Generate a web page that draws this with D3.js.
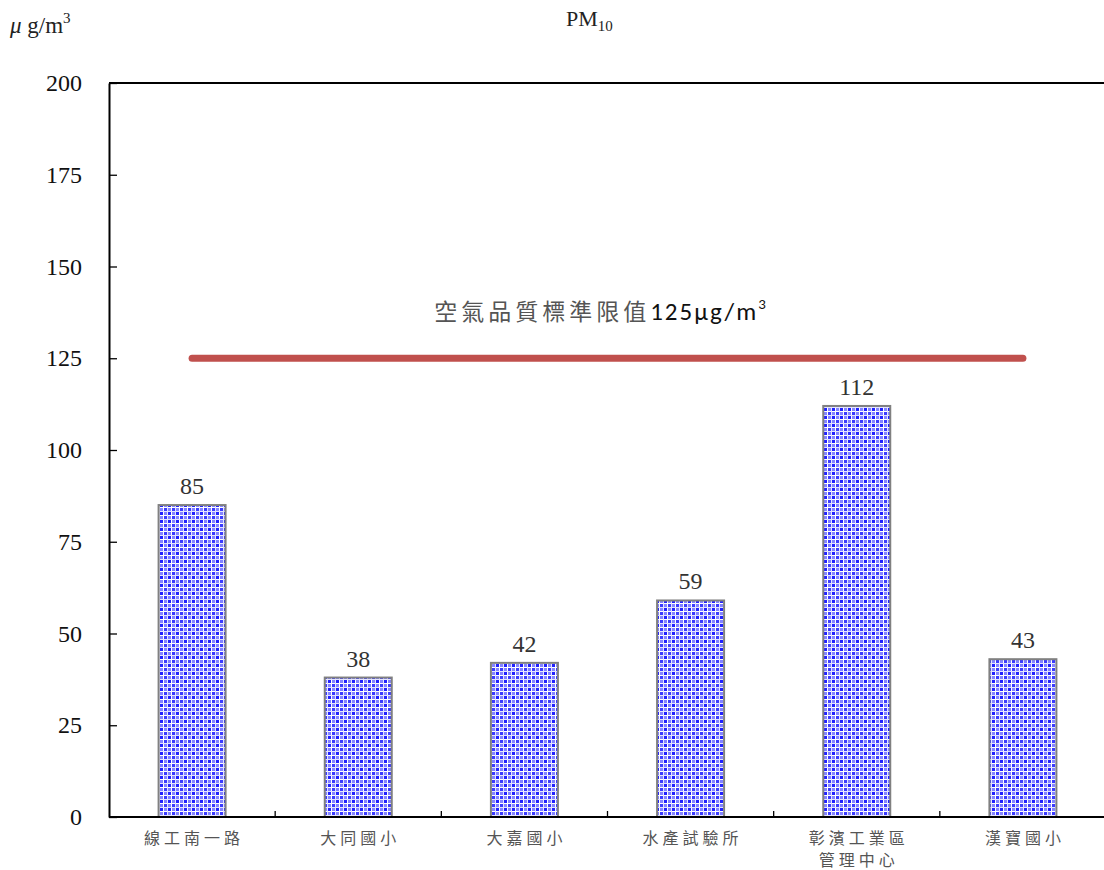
<!DOCTYPE html>
<html><head><meta charset="utf-8">
<script src="https://cdn.jsdelivr.net/npm/d3@7"></script>
<style>body{margin:0;background:#fff;}svg{display:block;}</style>
</head><body>
<script>
const categories = [["線工南一路"],["大同國小"],["大嘉國小"],["水產試驗所"],["彰濱工業區","管理中心"],["漢寶國小"]];
const values = [85, 38, 42, 59, 112, 43];
const yTicks = [0, 25, 50, 75, 100, 125, 150, 175, 200];
const standardValue = 125;
const standardLabel = "空氣品質標準限值";
const standardLabelNum = "125μg/m";

(function(){
const W = 1104, H = 870;
const mLeft = 109, mTop = 83, mBottom = 817, mRight = 1106;
const SERIF = "'Liberation Serif', 'Times New Roman', serif";
const CJK = "'Noto Sans CJK TC', 'Noto Sans CJK SC', sans-serif";
const svg = d3.select("body").append("svg").attr("width", W).attr("height", H);

const defs = svg.append("defs");
const pat = defs.append("pattern").attr("id","weave").attr("patternUnits","userSpaceOnUse")
  .attr("width",8).attr("height",8);
pat.append("rect").attr("width",8).attr("height",8).attr("fill","#8484ff");
pat.append("rect").attr("x",0).attr("y",0).attr("width",3).attr("height",3).attr("fill","#2020ff");
pat.append("rect").attr("x",4).attr("y",4).attr("width",3).attr("height",3).attr("fill","#3a3aff");
pat.append("rect").attr("x",3).attr("y",0).attr("width",1).attr("height",8).attr("fill","#ffffff");
pat.append("rect").attr("x",0).attr("y",3).attr("width",8).attr("height",1).attr("fill","#ffffff");
pat.append("rect").attr("x",7).attr("y",0).attr("width",1).attr("height",8).attr("fill","#e4e4ff");
pat.append("rect").attr("x",0).attr("y",7).attr("width",8).attr("height",1).attr("fill","#e4e4ff");

const x = d3.scaleBand().domain(d3.range(categories.length)).range([mLeft, mRight]).paddingInner(0).paddingOuter(0);
const y = d3.scaleLinear().domain([0, 200]).range([mBottom, mTop]);
const barW = 67;

svg.append("g").selectAll("rect").data(values).join("rect")
  .attr("x",(d,i)=>x(i)+x.bandwidth()/2-barW/2)
  .attr("y",d=>y(d))
  .attr("width",barW)
  .attr("height",d=>y(0)-y(d))
  .attr("fill","url(#weave)")
  .attr("stroke","#808080").attr("stroke-width",2);

svg.append("g").selectAll("text").data(values).join("text")
  .attr("x",(d,i)=>x(i)+x.bandwidth()/2)
  .attr("y",d=>y(d)-11)
  .attr("text-anchor","middle")
  .style("font-family",SERIF)
  .style("font-size","24px").attr("fill","#333")
  .text(d=>d);

const yAxis = d3.axisLeft(y).tickValues(yTicks).tickSize(-8).tickPadding(27).tickSizeOuter(0);
const gy = svg.append("g").attr("transform",`translate(${mLeft},0)`).call(yAxis);
gy.select(".domain").attr("stroke","#000").attr("stroke-width",2);
gy.selectAll(".tick line").attr("stroke","#000").attr("stroke-width",1.3);
gy.selectAll(".tick text").style("font-family",SERIF)
  .style("font-size","24px").attr("fill","#111");

const gx = svg.append("g").attr("transform",`translate(0,${mBottom})`);
gx.append("line").attr("x1",mLeft).attr("x2",W).attr("y1",0).attr("y2",0).attr("stroke","#000").attr("stroke-width",2);
gx.selectAll(".xt").data(d3.range(1,categories.length)).join("line")
  .attr("x1",i=>x(i)).attr("x2",i=>x(i)).attr("y1",0).attr("y2",-6)
  .attr("stroke","#000").attr("stroke-width",1.3);
const xl = gx.selectAll(".xl").data(categories).join("text")
  .attr("text-anchor","middle")
  .style("font-family",CJK)
  .style("font-size","16px").style("letter-spacing","4px").attr("fill","#555");
xl.each(function(lines,i){
  const t = d3.select(this);
  lines.forEach((ln,j)=>{
    t.append("tspan").attr("x",x(i)+x.bandwidth()/2+2).attr("y",27+j*22).text(ln);
  });
});

svg.append("line").attr("x1",mLeft).attr("x2",W).attr("y1",mTop).attr("y2",mTop).attr("stroke","#000").attr("stroke-width",2);

svg.append("line")
  .attr("x1",x(0)+x.bandwidth()/2).attr("x2",x(categories.length-1)+x.bandwidth()/2)
  .attr("y1",y(standardValue)).attr("y2",y(standardValue))
  .attr("stroke","#c0504d").attr("stroke-width",7).attr("stroke-linecap","round");

const sl = svg.append("text").attr("x",600).attr("y",320).attr("text-anchor","middle")
  .style("font-family",CJK).style("font-size","23px");
sl.append("tspan").attr("fill","#555").style("letter-spacing","4px").text(standardLabel);
sl.append("tspan").attr("fill","#111").style("font-family","Carlito, 'Liberation Sans', sans-serif").style("font-size","25px").style("letter-spacing","2px").text(standardLabelNum);
sl.append("tspan").attr("fill","#111").style("font-family","Carlito, 'Liberation Sans', sans-serif").style("font-size","15px").attr("dy",-11).text("3");

const tt = svg.append("text").attr("x",566).attr("y",26).style("font-family",SERIF)
  .style("font-size","22px").attr("fill","#222");
tt.append("tspan").text("PM");
tt.append("tspan").style("font-size","15px").attr("dy",5).text("10");

const ul = svg.append("text").attr("x",10).attr("y",33).style("font-family",SERIF)
  .style("font-size","23px").attr("fill","#222");
ul.append("tspan").style("font-style","italic").text("μ");
ul.append("tspan").text(" g/m");
ul.append("tspan").style("font-size","15px").attr("dy",-10).text("3");
})();
</script>
</body></html>
